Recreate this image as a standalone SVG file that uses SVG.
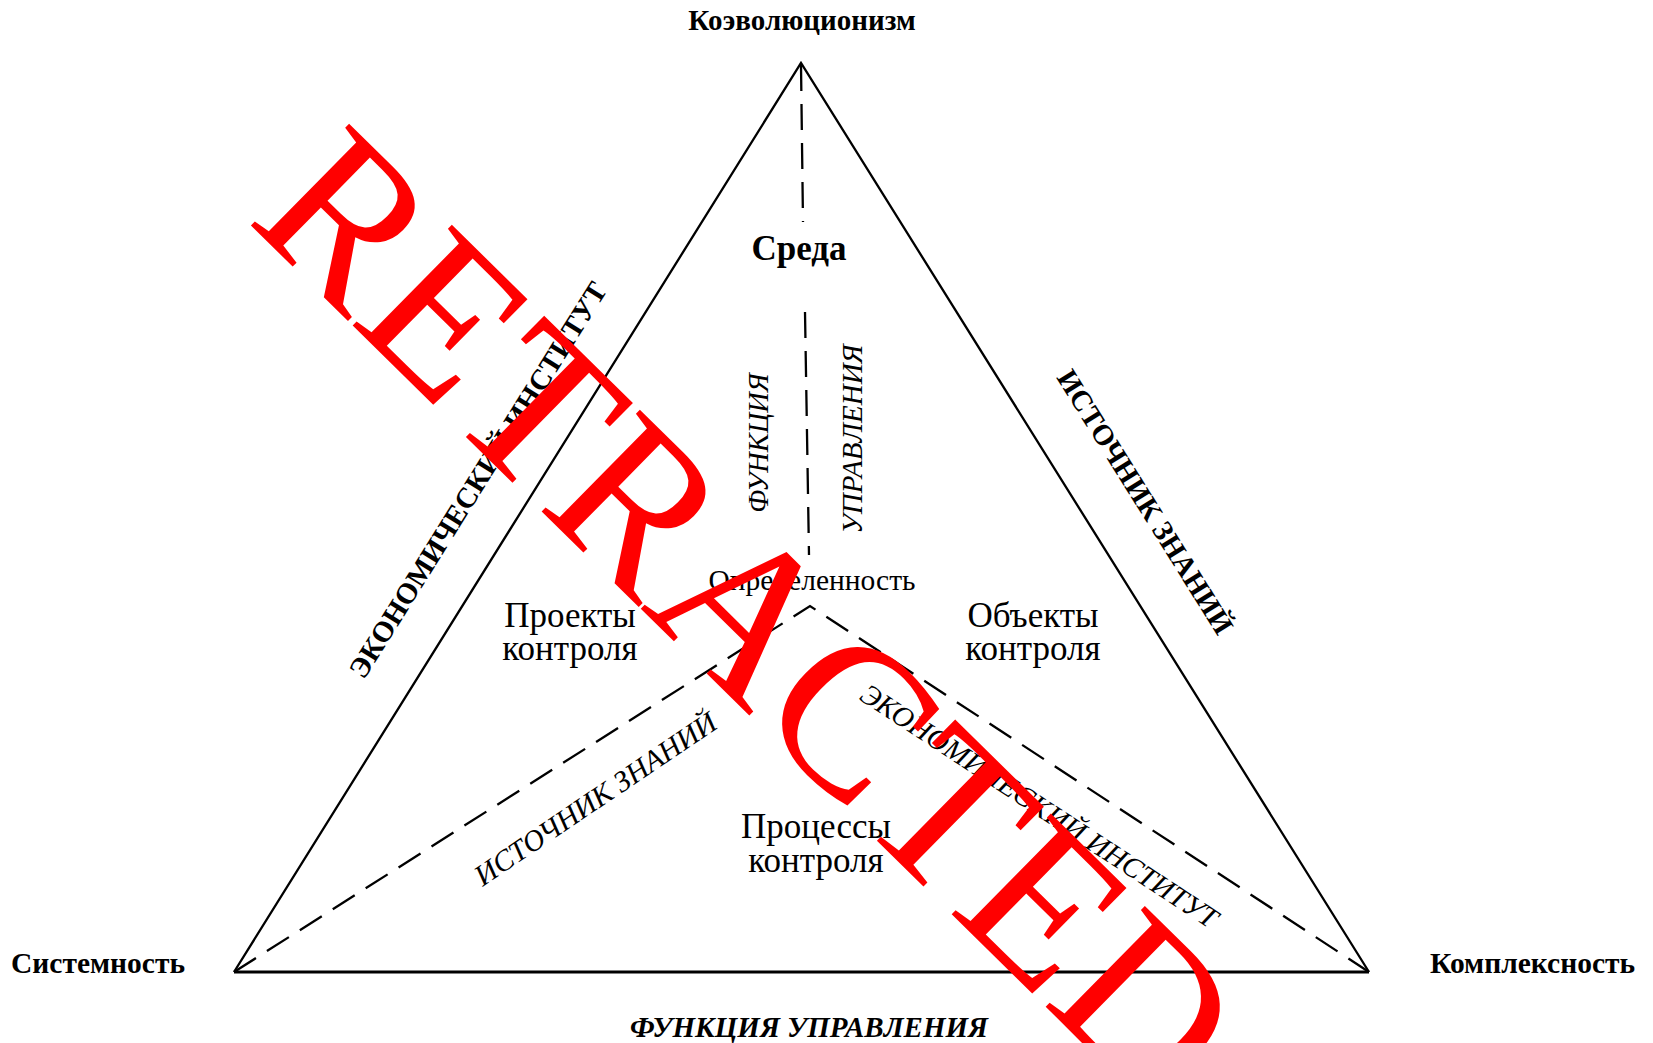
<svg xmlns="http://www.w3.org/2000/svg" width="1653" height="1043" viewBox="0 0 1653 1043">
<style>
.t{font-family:"Liberation Serif","Times New Roman",serif;fill:#000}
.b{font-weight:bold}
.i{font-style:italic}
.edge{fill:none;stroke:#000;stroke-width:2.3}
.dash{fill:none;stroke:#000;stroke-width:2.3;stroke-dasharray:26 13}
.wm{font-family:"Liberation Serif","Times New Roman",serif;fill:#ff0000;font-size:216px}
</style>
<rect width="1653" height="1043" fill="#fff"/>
<g id="connectors">
<polyline class="edge" points="234,972 801,63 1369,972"/>
<line x1="234" y1="972" x2="1369" y2="972" stroke="#000" stroke-width="3"/>
<line class="dash" x1="801" y1="65" x2="803" y2="222"/>
<line class="dash" x1="805" y1="312" x2="809" y2="555"/>
<polyline class="dash" points="234,972 810,606 1369,972"/>
</g>
<g id="node-koevol"><text class="t b" x="802" y="30" font-size="29" text-anchor="middle">Коэволюционизм</text></g>
<g id="node-sistem"><text class="t b" x="11" y="973" font-size="29.5">Системность</text></g>
<g id="node-kompleks"><text class="t b" x="1430" y="973" font-size="29.5">Комплексность</text></g>
<g id="node-sreda"><text class="t b" x="799" y="260" font-size="35" text-anchor="middle">Среда</text></g>
<g id="node-funk"><text class="t i" transform="translate(768,443) rotate(-90)" font-size="28.5" text-anchor="middle">ФУНКЦИЯ</text></g>
<g id="node-uprav"><text class="t i" transform="translate(862,439) rotate(-90)" font-size="29" text-anchor="middle">УПРАВЛЕНИЯ</text></g>
<g id="node-opred"><text class="t" x="812" y="590" font-size="29.5" text-anchor="middle">Определенность</text></g>
<g id="node-proekty"><text class="t" font-size="35" text-anchor="middle"><tspan x="570" y="627">Проекты</tspan><tspan x="570" y="660">контроля</tspan></text></g>
<g id="node-obekty"><text class="t" font-size="35" text-anchor="middle"><tspan x="1033" y="627">Объекты</tspan><tspan x="1033" y="660">контроля</tspan></text></g>
<g id="node-processy"><text class="t" font-size="35" text-anchor="middle"><tspan x="816" y="838">Процессы</tspan><tspan x="816" y="872">контроля</tspan></text></g>
<g id="label-left-edge"><text class="t b" transform="translate(486,485) rotate(-58)" font-size="29" text-anchor="middle">ЭКОНОМИЧЕСКИЙ ИНСТИТУТ</text></g>
<g id="label-right-edge"><text class="t b" transform="translate(1137,507) rotate(58)" font-size="29" text-anchor="middle">ИСТОЧНИК ЗНАНИЙ</text></g>
<g id="label-inner-left"><text class="t i" transform="translate(601,807) rotate(-34)" font-size="29.5" text-anchor="middle">ИСТОЧНИК ЗНАНИЙ</text></g>
<g id="label-inner-right"><text class="t i" transform="translate(1034,814) rotate(33.2)" font-size="29" text-anchor="middle">ЭКОНОМИЧЕСКИЙ ИНСТИТУТ</text></g>
<g id="label-bottom"><text class="t b i" x="809" y="1037" font-size="29" text-anchor="middle">ФУНКЦИЯ УПРАВЛЕНИЯ</text></g>
<g id="watermark"><text class="wm" transform="translate(699,666) rotate(44.5)" text-anchor="middle">RETRACTED</text></g>
</svg>
